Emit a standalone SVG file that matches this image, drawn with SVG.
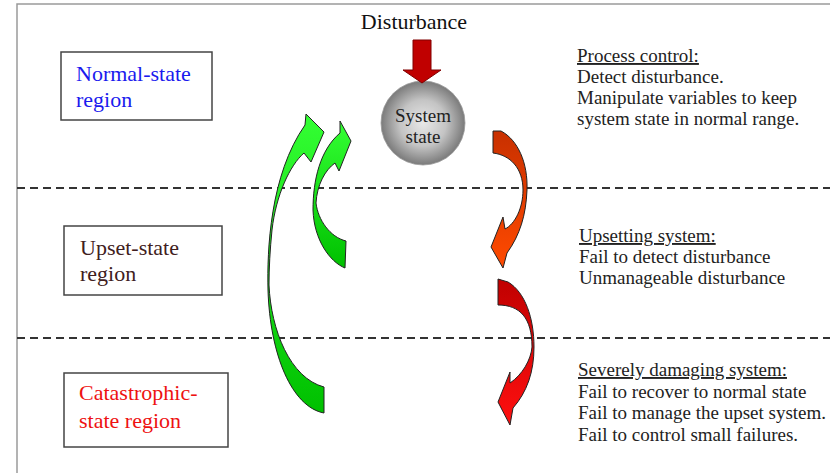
<svg xmlns="http://www.w3.org/2000/svg" width="830" height="473" viewBox="0 0 830 473">
<style>
.frame{stroke:#9a9a9a;stroke-width:1.5;fill:none}
.dash{stroke:#333;stroke-width:2;stroke-dasharray:8 5;fill:none}
.box{fill:#fff;stroke:#444;stroke-width:1.5}
.lbl{font-family:"Liberation Serif","Times New Roman",serif;font-size:22px}
.txt{font-family:"Liberation Serif","Times New Roman",serif;font-size:19px;fill:#222}
.arr{stroke:#222;stroke-width:1}
</style>
<defs>
<radialGradient id="ball" cx="0.5" cy="0.5" r="0.5">
<stop offset="0" stop-color="#e8e8e8"/>
<stop offset="0.55" stop-color="#c4c4c4"/>
<stop offset="1" stop-color="#7a7a7a"/>
</radialGradient>
<linearGradient id="green" x1="0" y1="0" x2="0" y2="1">
<stop offset="0" stop-color="#33ff33"/>
<stop offset="1" stop-color="#00c000"/>
</linearGradient>
<linearGradient id="orange" x1="0" y1="0" x2="0" y2="1">
<stop offset="0" stop-color="#c83000"/>
<stop offset="1" stop-color="#ff4a00"/>
</linearGradient>
<linearGradient id="red" x1="0" y1="0" x2="0" y2="1">
<stop offset="0" stop-color="#c00000"/>
<stop offset="1" stop-color="#ff1010"/>
</linearGradient>
</defs>
<rect width="830" height="473" fill="#fff"/>
<path class="frame" d="M17,473 V4 H830"/>
<line class="dash" x1="17" y1="188" x2="830" y2="188"/>
<line class="dash" x1="17" y1="338" x2="830" y2="338"/>

<g id="normal-region">
<rect class="box" x="61" y="52" width="151" height="68"/>
<text class="lbl" fill="#1a1aee" x="76" y="81">Normal-state</text>
<text class="lbl" fill="#1a1aee" x="76" y="107">region</text>
</g>
<g id="upset-region">
<rect class="box" x="64" y="226" width="158" height="69"/>
<text class="lbl" fill="#402020" x="80" y="255">Upset-state</text>
<text class="lbl" fill="#402020" x="80" y="281">region</text>
</g>
<g id="catastrophic-region">
<rect class="box" x="64" y="373" width="164" height="74"/>
<text class="lbl" fill="#ee1111" x="79" y="400">Catastrophic-</text>
<text class="lbl" fill="#ee1111" x="79" y="428">state region</text>
</g>

<g id="disturbance">
<text class="lbl" fill="#111" x="414" y="29" text-anchor="middle">Disturbance</text>
</g>
<g id="system-state">
<circle cx="423" cy="123" r="42" fill="url(#ball)" stroke="#999" stroke-width="0.8"/>
<text class="txt" x="423" y="122" text-anchor="middle">System</text>
<text class="txt" x="423" y="143" text-anchor="middle">state</text>
</g>

<g id="process-control">
<text class="txt" x="577" y="62" text-decoration="underline">Process control:</text>
<text class="txt" x="577" y="83">Detect disturbance.</text>
<text class="txt" x="577" y="104">Manipulate variables to keep</text>
<text class="txt" x="577" y="125">system state in normal range.</text>
</g>
<g id="upsetting-system">
<text class="txt" x="579" y="242" text-decoration="underline">Upsetting system:</text>
<text class="txt" x="579" y="263">Fail to detect disturbance</text>
<text class="txt" x="579" y="284">Unmanageable disturbance</text>
</g>
<g id="severely-damaging">
<text class="txt" x="578" y="376" text-decoration="underline">Severely damaging system:</text>
<text class="txt" x="578" y="397.5">Fail to recover to normal state</text>
<text class="txt" x="578" y="419">Fail to manage the upset system.</text>
<text class="txt" x="578" y="440.5">Fail to control small failures.</text>
</g>

<g id="connectors">
<path d="M413,40 H431 V70 H441 L422,83 L403,70 H413 Z" fill="#c00000" stroke="#800000" stroke-width="1"/>
<path class="arr" fill="url(#green)" d="M305,125 L306,114 L324,132 L311,162 L304,153 C290,165 276,195 272,230 C270,250 269,268 269,285 C271,330 290,378 324,387 L324,413 C292,407 270,355 268,290 C267,250 270,175 305,125 Z"/>
<path class="arr" fill="url(#green)" d="M340,133 L340,121 L351,141 L339,171 L335,163 C325,170 317,185 316,203 C318,220 330,237 346,241 L345,268 C330,262 314,240 313,210 C313,180 320,150 340,133 Z"/>
<path class="arr" fill="url(#orange)" d="M493,131 L501,131 C518,140 528,163 527,190 C526,215 520,235 507,253 L503,268 L491,247 L503,217 L505,229 C515,224 523,208 523,190 C523,168 510,155 493,153 Z"/>
<path class="arr" fill="url(#red)" d="M498,279 L508,282 C525,292 534,318 534,347 C534,372 527,392 513,408 L510,425 L498,402 L510,372 L510,383 C522,375 531,360 532,347 C532,318 520,305 498,305 Z"/>
</g>
</svg>
